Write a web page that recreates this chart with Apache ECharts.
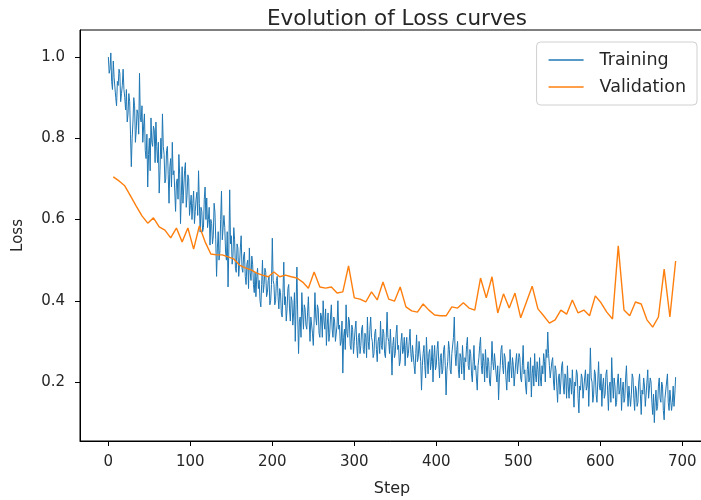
<!DOCTYPE html>
<html>
<head>
<meta charset="utf-8">
<script src="https://cdn.jsdelivr.net/npm/echarts@6/dist/echarts.min.js"></script>
<style>html,body{margin:0;padding:0;background:#fff}#c{width:701px;height:500px}</style>
</head>
<body>
<div id="c"></div>
<script>
const TITLE = "Evolution of Loss curves";
const X_NAME = "Step";
const Y_NAME = "Loss";
const SERIES_NAMES = ["Training", "Validation"];
const X_TICKS = [0, 100, 200, 300, 400, 500, 600, 700];
const Y_TICKS = [0.2, 0.4, 0.6, 0.8, 1.0];

// training loss, one value per step (steps 0..692)
const trainLoss = [
  1.00,0.96,0.97,1.01,0.94,0.92,0.99,0.95,0.95,0.90,0.88,0.94,0.93,0.97,0.96,0.89,0.91,0.93,0.97,0.92,
  0.90,0.87,0.92,0.84,0.86,0.91,0.89,0.81,0.73,0.80,0.84,0.90,0.88,0.79,0.82,0.87,0.86,0.81,0.96,0.85,
  0.84,0.88,0.79,0.83,0.86,0.77,0.75,0.81,0.68,0.76,0.80,0.72,0.85,0.79,0.78,0.83,0.82,0.74,0.84,0.78,
  0.74,0.79,0.665,0.72,0.80,0.75,0.86,0.78,0.76,0.69,0.70,0.77,0.78,0.71,0.64,0.73,0.75,0.68,0.79,0.71,
  0.72,0.67,0.62,0.69,0.70,0.65,0.76,0.71,0.59,0.66,0.73,0.64,0.68,0.72,0.74,0.63,0.66,0.71,0.70,0.61,
  0.635,0.66,0.60,0.64,0.67,0.59,0.62,0.65,0.667,0.61,0.72,0.64,0.569,0.63,0.62,0.57,0.58,0.65,0.68,0.60,
  0.653,0.58,0.60,0.63,0.537,0.60,0.59,0.54,0.56,0.64,0.618,0.55,0.46,0.53,0.57,0.50,0.52,0.60,0.67,0.55,
  0.55,0.61,0.58,0.52,0.50,0.57,0.434,0.53,0.673,0.54,0.56,0.49,0.51,0.58,0.55,0.48,0.47,0.54,0.53,0.46,
  0.49,0.53,0.56,0.48,0.47,0.51,0.52,0.46,0.44,0.49,0.50,0.43,0.53,0.47,0.45,0.51,0.49,0.44,0.42,0.47,
  0.41,0.46,0.48,0.43,0.45,0.40,0.385,0.44,0.50,0.42,0.44,0.48,0.47,0.41,0.42,0.45,0.46,0.39,0.40,0.44,
  0.554,0.45,0.44,0.39,0.40,0.45,0.46,0.41,0.38,0.43,0.42,0.37,0.36,0.42,0.495,0.39,0.41,0.35,0.38,0.43,
  0.44,0.38,0.35,0.41,0.40,0.34,0.37,0.42,0.30,0.39,0.483,0.36,0.27,0.35,0.36,0.31,0.42,0.37,0.33,0.39,
  0.38,0.34,0.33,0.37,0.41,0.35,0.30,0.36,0.36,0.32,0.29,0.35,0.42,0.36,0.34,0.39,0.38,0.32,0.31,0.37,
  0.36,0.31,0.40,0.35,0.33,0.38,0.29,0.34,0.37,0.30,0.32,0.36,0.39,0.33,0.31,0.36,0.35,0.30,0.296,0.34,
  0.40,0.33,0.34,0.29,0.30,0.35,0.222,0.31,0.33,0.28,0.39,0.32,0.31,0.36,0.35,0.29,0.28,0.34,0.33,0.27,
  0.30,0.33,0.35,0.29,0.26,0.31,0.32,0.27,0.29,0.33,0.34,0.28,0.27,0.32,0.31,0.26,0.36,0.30,0.28,0.33,
  0.36,0.31,0.30,0.26,0.27,0.32,0.33,0.28,0.25,0.30,0.31,0.27,0.35,0.29,0.28,0.33,0.32,0.27,0.26,0.31,
  0.372,0.31,0.30,0.27,0.33,0.28,0.217,0.29,0.31,0.26,0.27,0.32,0.34,0.28,0.29,0.24,0.25,0.30,0.32,0.27,
  0.28,0.31,0.24,0.29,0.31,0.26,0.27,0.30,0.33,0.27,0.25,0.29,0.29,0.24,0.22,0.27,0.316,0.25,0.26,0.30,
  0.30,0.25,0.18,0.24,0.27,0.29,0.24,0.21,0.31,0.26,0.22,0.27,0.28,0.23,0.25,0.29,0.20,0.26,0.29,0.23,
  0.24,0.28,0.30,0.25,0.21,0.26,0.27,0.22,0.23,0.28,0.29,0.24,0.168,0.23,0.25,0.30,0.28,0.23,0.22,0.27,
  0.27,0.31,0.36,0.27,0.24,0.28,0.30,0.23,0.21,0.27,0.26,0.22,0.29,0.25,0.205,0.26,0.25,0.29,0.31,0.24,
  0.23,0.28,0.27,0.22,0.20,0.25,0.29,0.23,0.24,0.21,0.18,0.24,0.26,0.29,0.31,0.24,0.22,0.27,0.25,0.20,
  0.28,0.24,0.21,0.26,0.25,0.20,0.19,0.24,0.30,0.25,0.23,0.27,0.27,0.22,0.20,0.24,0.156,0.21,0.24,0.28,
  0.29,0.24,0.22,0.27,0.26,0.21,0.18,0.23,0.25,0.20,0.28,0.24,0.21,0.26,0.24,0.19,0.19,0.25,0.27,0.22,
  0.22,0.27,0.26,0.21,0.20,0.24,0.29,0.22,0.23,0.19,0.17,0.23,0.25,0.20,0.21,0.26,0.163,0.22,0.24,0.19,
  0.27,0.22,0.20,0.25,0.23,0.19,0.26,0.21,0.19,0.24,0.22,0.27,0.25,0.20,0.28,0.26,0.323,0.27,0.24,0.21,
  0.21,0.25,0.26,0.20,0.18,0.24,0.23,0.19,0.15,0.21,0.22,0.17,0.20,0.24,0.25,0.19,0.17,0.22,0.21,0.16,
  0.24,0.19,0.16,0.21,0.20,0.17,0.23,0.18,0.138,0.20,0.19,0.23,0.22,0.16,0.124,0.19,0.18,0.22,0.21,0.16,
  0.16,0.21,0.23,0.18,0.19,0.22,0.14,0.20,0.284,0.21,0.20,0.15,0.17,0.23,0.22,0.17,0.15,0.20,0.25,0.19,
  0.18,0.22,0.14,0.19,0.21,0.16,0.17,0.22,0.23,0.18,0.13,0.19,0.20,0.15,0.26,0.20,0.16,0.21,0.19,0.14,
  0.15,0.20,0.22,0.17,0.18,0.21,0.13,0.18,0.20,0.15,0.16,0.21,0.24,0.18,0.14,0.19,0.19,0.14,0.17,0.22,
  0.21,0.16,0.13,0.19,0.18,0.14,0.15,0.20,0.22,0.17,0.12,0.18,0.17,0.21,0.19,0.14,0.14,0.20,0.23,0.16,
  0.16,0.21,0.20,0.15,0.12,0.17,0.10,0.15,0.18,0.13,0.14,0.19,0.21,0.16,0.15,0.20,0.19,0.13,0.107,0.16,
  0.16,0.20,0.22,0.15,0.13,0.18,0.18,0.13,0.15,0.19,0.14,0.17,0.212
];

// validation loss, evaluated every 7 steps (steps 6, 13, ..., 692)
const valSteps = [
  6,13,20,27,34,41,48,55,62,69,76,83,90,97,104,111,118,125,132,139,
  146,153,160,167,174,181,188,195,202,209,216,223,230,237,244,251,258,265,272,279,
  286,293,300,307,314,321,328,335,342,349,356,363,370,377,384,391,398,405,412,419,
  426,433,440,447,454,461,468,475,482,489,496,503,510,517,524,531,538,545,552,559,
  566,573,580,587,594,601,608,615,622,629,636,643,650,657,664,671,678,685,692
];
const valLoss = [
  0.705,0.695,0.683,0.658,0.633,0.609,0.591,0.604,0.582,0.574,
  0.555,0.579,0.545,0.579,0.527,0.584,0.545,0.515,0.513,0.513,
  0.508,0.503,0.488,0.481,0.476,0.468,0.463,0.459,0.471,0.459,
  0.463,0.459,0.456,0.446,0.431,0.471,0.434,0.431,0.434,0.419,
  0.422,0.486,0.407,0.404,0.397,0.422,0.402,0.446,0.404,0.399,
  0.434,0.385,0.375,0.372,0.392,0.377,0.365,0.363,0.363,0.385,
  0.382,0.395,0.382,0.377,0.456,0.407,0.459,0.370,0.417,0.382,
  0.419,0.358,0.397,0.436,0.380,0.363,0.345,0.353,0.377,0.367,
  0.402,0.370,0.377,0.363,0.412,0.395,0.372,0.355,0.535,0.377,
  0.363,0.397,0.392,0.353,0.335,0.360,0.478,0.360,0.498
];

const trainData = trainLoss.map((v, step) => [step, v]);
const valData = valSteps.map((s, i) => [s, valLoss[i]]);

const FONT = "DejaVu Sans";
const TXT = "#262626";
const chart = echarts.init(document.getElementById('c'), null, {renderer: 'canvas'});
chart.setOption({
  animation: false,
  backgroundColor: '#fff',
  title: {
    text: TITLE, left: 392, top: 3, textAlign: 'center',
    textStyle: {fontFamily: FONT, fontSize: 21.5, fontWeight: 'normal', color: TXT}
  },
  legend: {
    data: SERIES_NAMES.map(n => ({name: n, icon: 'rect'})),
    orient: 'vertical', right: 4, top: 42,
    backgroundColor: 'rgba(255,255,255,0.8)', borderColor: '#d0d0d0', borderWidth: 1, borderRadius: 4,
    padding: [9, 11, 9, 12], itemWidth: 35, itemHeight: 1.5, itemGap: 9,
    textStyle: {fontFamily: FONT, fontSize: 17.5, color: TXT, padding: [0, 0, 0, 11]}
  },
  grid: {left: 80, top: 30, width: 624, bottom: 59, show: true, borderColor: '#000', borderWidth: 1,
    containLabel: false, outerBoundsMode: 'none'},
  xAxis: {
    type: 'value', min: -34.6, max: 726.6,
    name: X_NAME, nameLocation: 'middle', nameGap: 40,
    nameTextStyle: {fontFamily: FONT, fontSize: 16, color: TXT},
    splitLine: {show: false},
    axisLine: {show: true, onZero: false, lineStyle: {color: '#000'}},
    axisTick: {show: true, length: 5, lineStyle: {color: '#000'}, customValues: X_TICKS},
    axisLabel: {fontFamily: FONT, fontSize: 15, color: TXT, margin: 14, customValues: X_TICKS}
  },
  yAxis: {
    type: 'value', min: 0.0548, max: 1.0665,
    name: Y_NAME, nameLocation: 'middle', nameGap: 54, nameRotate: 90,
    nameTextStyle: {fontFamily: FONT, fontSize: 15, color: TXT},
    splitLine: {show: false},
    axisLine: {show: true, onZero: false, lineStyle: {color: '#000'}},
    axisTick: {show: true, length: 5, lineStyle: {color: '#000'}, customValues: Y_TICKS},
    axisLabel: {fontFamily: FONT, fontSize: 15, color: TXT, margin: 15, customValues: Y_TICKS,
      formatter: v => v.toFixed(1)}
  },
  series: [
    {name: SERIES_NAMES[0], type: 'line', data: trainData, symbol: 'none',
     lineStyle: {color: '#1f77b4', width: 1}, itemStyle: {color: '#1f77b4'}, z: 2},
    {name: SERIES_NAMES[1], type: 'line', data: valData, symbol: 'none',
     lineStyle: {color: '#ff7f0e', width: 1.4}, itemStyle: {color: '#ff7f0e'}, z: 3}
  ]
});
</script>
</body>
</html>
